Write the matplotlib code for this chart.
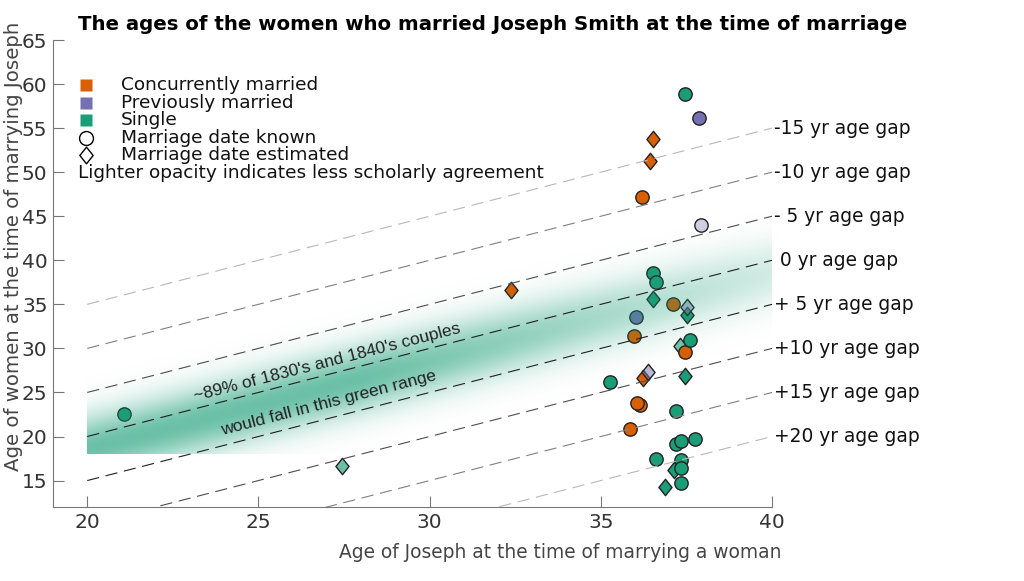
import numpy as np
import matplotlib
matplotlib.use('Agg')
import matplotlib.pyplot as plt
from matplotlib.path import Path

# ages of Joseph / the woman at each marriage
joseph_age = [21.07, 27.45, 32.37, 35.28, 35.85, 35.97, 36.04, 36.14, 36.07, 36.2,
              36.24, 36.38, 36.43, 36.53, 36.53, 36.6, 36.53, 36.6, 36.87, 37.1,
              37.13, 37.2, 37.19, 37.35, 37.35, 37.35, 37.35, 37.3, 37.45, 37.6,
              37.45, 37.47, 37.53, 37.53, 37.74, 37.86, 37.93]
woman_age = [22.6, 16.6, 36.6, 26.2, 20.8, 31.4, 33.6, 23.6, 23.85, 47.2,
             26.6, 27.35, 51.25, 53.75, 38.6, 37.5, 35.65, 17.4, 14.25, 35.0,
             16.25, 22.95, 19.1, 19.5, 17.3, 16.45, 14.75, 30.3, 29.6, 30.9,
             26.85, 58.9, 33.75, 34.7, 19.75, 56.1, 44.0]
# C = concurrently married, P = previously married, S = single
status = ['S', 'S', 'C', 'S', 'C', 'C', 'P', 'C', 'C', 'C',
          'C', 'P', 'C', 'C', 'S', 'S', 'S', 'S', 'S', 'C',
          'S', 'S', 'S', 'S', 'S', 'S', 'S', 'S', 'C', 'S',
          'S', 'S', 'S', 'P', 'S', 'P', 'P']
date_known = [1, 0, 0, 1, 1, 1, 1, 1, 1, 1,
              0, 0, 0, 0, 1, 1, 0, 1, 0, 1,
              0, 1, 1, 1, 1, 1, 1, 0, 1, 1,
              0, 1, 0, 0, 1, 1, 1]
opacity = [1, 0.65, 1, 1, 1, 1, 1, 1, 1, 1,
           1, 0.5, 1, 1, 1, 1, 1, 1, 1, 1,
           1, 1, 1, 1, 1, 1, 1, 0.6, 1, 1,
           1, 1, 1, 0.5, 1, 1, 0.33]

gaps = [15, 10, 5, 0, -5, -10, -15, -20]
gap_labels = ['-15 yr age gap', '-10 yr age gap', '- 5 yr age gap', ' 0 yr age gap',
              '+ 5 yr age gap', '+10 yr age gap', '+15 yr age gap', '+20 yr age gap']
gap_grey = [0.72, 0.5, 0.3, 0.12, 0.12, 0.3, 0.5, 0.72]

legend_labels = ['Concurrently married', 'Previously married', 'Single',
                 'Marriage date known', 'Marriage date estimated']

colors = {'C': '#D95F02', 'P': '#7570B3', 'S': '#1B9E77'}
diamond = Path([(0, 1), (0.8, 0), (0, -1), (-0.8, 0), (0, 1)],
               [Path.MOVETO, Path.LINETO, Path.LINETO, Path.LINETO, Path.CLOSEPOLY])

plt.rcParams['font.family'] = 'DejaVu Sans'
fig = plt.figure(figsize=(10.24, 5.81), dpi=100)
ax = fig.add_axes([53 / 1024, 1 - 507 / 581, 719 / 1024, 467 / 581])

# points
for jx, wy, st, kn, op in zip(joseph_age, woman_age, status, date_known, opacity):
    fc = matplotlib.colors.to_rgba(colors[st], op)
    if kn:
        ax.plot(jx, wy, marker='o', ms=9.6, mfc=fc, mec='#222222', mew=1.0,
                ls='none', zorder=3)
    else:
        ax.plot(jx, wy, marker=diamond, ms=11.8, mfc=fc, mec='#222222', mew=1.0,
                ls='none', zorder=3)

# green band of typical couples (drawn over the points)
xs = np.linspace(20, 40, 400)
ys = np.linspace(18, 48, 300)
X, Y = np.meshgrid(xs, ys)
amp = np.clip(0.65 - (X - 28) * (0.45 / 12), 0.2, 0.65)
alpha = amp * np.exp(-0.5 * ((Y - (X - 1.5)) / 2.6) ** 2)
img = np.zeros(X.shape + (4,))
img[..., :3] = matplotlib.colors.to_rgb('#1B9E77')
img[..., 3] = alpha
ax.imshow(img, extent=[20, 40, 18, 48], origin='lower', aspect='auto',
          interpolation='bilinear', zorder=4)

# age gap lines
xl = np.array([20, 40])
for g, lab, gr in zip(gaps, gap_labels, gap_grey):
    ln, = ax.plot(xl, xl + g, color=str(gr), lw=0.8, zorder=5)
    ln.set_dashes((11, 6))
    ax.text(40.05, 40 + g, lab, ha='left', va='center', fontsize=13.4,
            color='#111111', clip_on=False)

ax.text(27.0, 28.4, "~89% of 1830's and 1840's couples", family='Liberation Sans',
        fontsize=12.5, color='#222222', rotation=45, transform_rotates_text=True,
        rotation_mode='anchor', ha='center', va='center', zorder=6)
ax.text(27.05, 23.75, 'would fall in this green range', family='Liberation Sans',
        fontsize=12.5, color='#222222', rotation=45, transform_rotates_text=True,
        rotation_mode='anchor', ha='center', va='center', zorder=6)

# legend
leg_markers = [('s', colors['C']), ('s', colors['P']), ('s', colors['S']),
               ('o', 'none'), (diamond, 'none')]
for i, (lab, (mk, fc)) in enumerate(zip(legend_labels, leg_markers)):
    yy = 0.9036 - i * 0.0377
    if fc == 'none':
        ax.plot(0.0459, yy, marker=mk, ms=10 if mk == 'o' else 12, mfc='white',
                mec='black', mew=1.0, transform=ax.transAxes, clip_on=False)
    else:
        ax.plot(0.0459, yy, marker=mk, ms=8.5, mfc=fc, mec='none',
                transform=ax.transAxes, clip_on=False)
    ax.text(0.0946, yy, lab, transform=ax.transAxes, fontsize=13.3,
            ha='left', va='center', color='#111111')
ax.text(0.0348, 0.9036 - 5 * 0.0377, 'Lighter opacity indicates less scholarly agreement',
        transform=ax.transAxes, fontsize=13.3, ha='left', va='center', color='#111111')

ax.set_xlim(19, 40)
ax.set_ylim(12, 65)
ax.set_xticks([20, 25, 30, 35, 40])
ax.set_yticks(range(15, 66, 5))
for s in ['top', 'right']:
    ax.spines[s].set_visible(False)
for s in ['left', 'bottom']:
    ax.spines[s].set_color('#777777')
ax.tick_params(direction='in', length=8, width=0.8, color='#777777',
               labelsize=14.5, labelcolor='#333333', pad=4)

fig.text(78 / 1024, 1 - 24 / 581,
         'The ages of the women who married Joseph Smith at the time of marriage',
         fontsize=14.2, fontweight='bold', ha='left', va='center')
fig.text(560 / 1024, 1 - 553 / 581, 'Age of Joseph at the time of marrying a woman',
         fontsize=13.4, color='#444444', ha='center', va='center')
fig.text(14 / 1024, 1 - 246 / 581, 'Age of women at the time of marrying Joseph',
         fontsize=14.2, color='#444444', ha='center', va='center', rotation=90)

fig.savefig('out.png', dpi=100)
